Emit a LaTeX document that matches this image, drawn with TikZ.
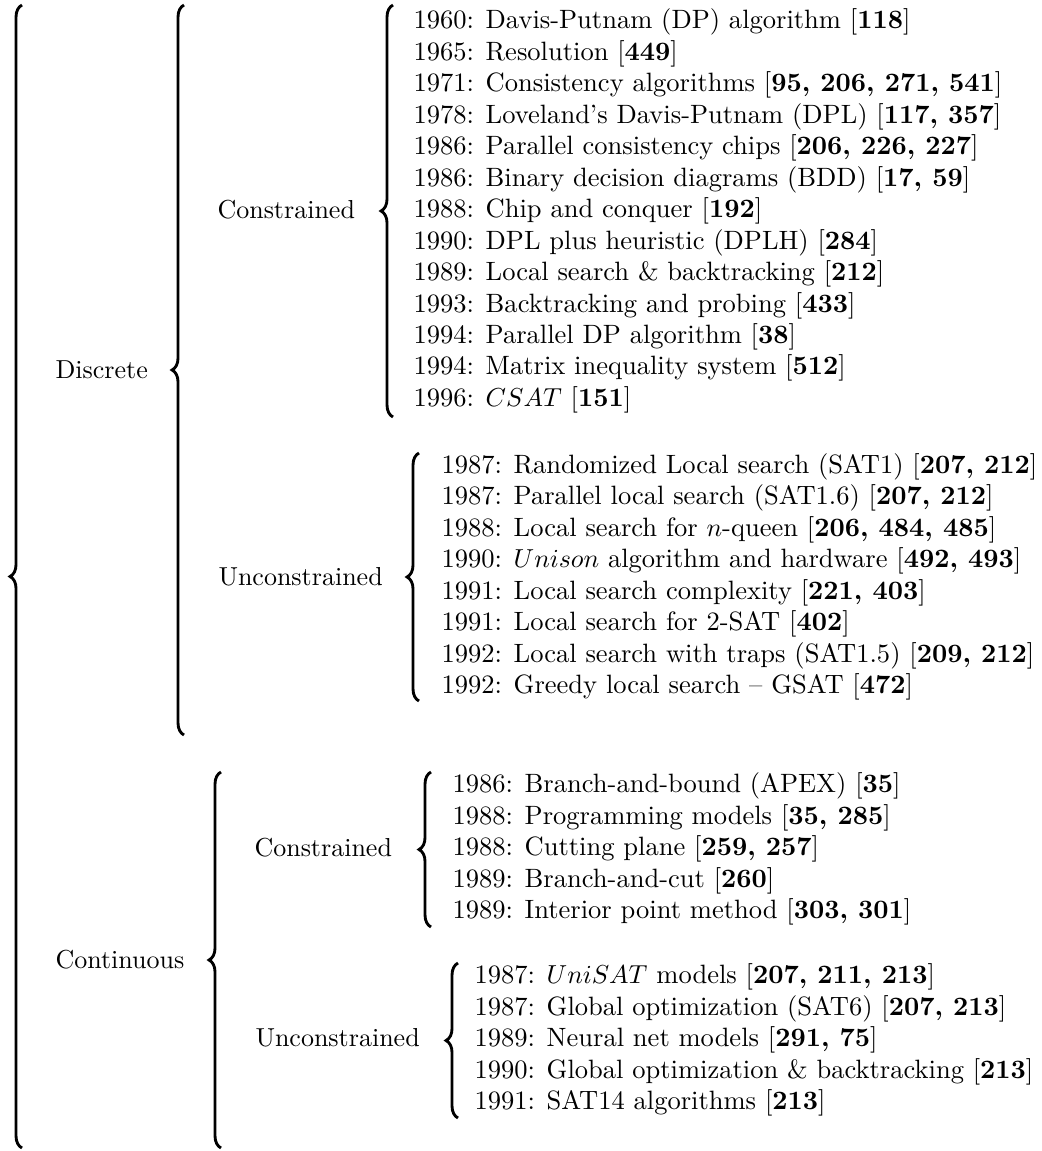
\documentclass[tikz,border=0pt]{standalone}
\usetikzlibrary{decorations.pathreplacing}
\begin{document}
\begin{tikzpicture}[x=0.3846pt,y=-0.3846pt,
  br/.style={decorate,decoration={brace,amplitude=4.6pt},line width=1.1pt},
  lbl/.style={anchor=west,inner sep=0pt,font=\fontsize{10}{12}\selectfont},
  items/.style={anchor=west,inner sep=0pt,align=left,font=\fontsize{10.2}{12.1}\selectfont}]
\useasboundingbox (0,0) rectangle (1042,1151);
% braces
\coordinate (rootT) at (22,5);   \coordinate (rootB) at (22,1148);
\coordinate (discT) at (184,5);  \coordinate (discB) at (184,735);
\coordinate (dcT) at (393,5);    \coordinate (dcB) at (393,417);
\coordinate (duT) at (419,453);  \coordinate (duB) at (419,701);
\coordinate (contT) at (221,772);\coordinate (contB) at (221,1148);
\coordinate (ccT) at (431,772);  \coordinate (ccB) at (431,927);
\coordinate (cuT) at (458,963);  \coordinate (cuB) at (458,1118);
\draw[br] (rootB) -- (rootT);
\draw[br] (discB) -- (discT);
\draw[br] (dcB) -- (dcT);
\draw[br] (duB) -- (duT);
\draw[br] (contB) -- (contT);
\draw[br] (ccB) -- (ccT);
\draw[br] (cuB) -- (cuT);
% labels
\node[lbl] (disc) at (55,370) {Discrete};
\node[lbl] (cont) at (55,960) {Continuous};
\node[lbl] (dcl) at (217,210) {Constrained};
\node[lbl] (dul) at (218,577) {Unconstrained};
\node[lbl] (ccl) at (254,848) {Constrained};
\node[lbl] (cul) at (255,1038) {Unconstrained};
% item lists
\node[items] (dcitems) at (413,211) {%
1960: Davis-Putnam (DP) algorithm [\textbf{118}]\\
1965: Resolution [\textbf{449}]\\
1971: Consistency algorithms [\textbf{95, 206, 271, 541}]\\
1978: Loveland's Davis-Putnam (DPL) [\textbf{117, 357}]\\
1986: Parallel consistency chips [\textbf{206, 226, 227}]\\
1986: Binary decision diagrams (BDD) [\textbf{17, 59}]\\
1988: Chip and conquer [\textbf{192}]\\
1990: DPL plus heuristic (DPLH) [\textbf{284}]\\
1989: Local search \& backtracking [\textbf{212}]\\
1993: Backtracking and probing [\textbf{433}]\\
1994: Parallel DP algorithm [\textbf{38}]\\
1994: Matrix inequality system [\textbf{512}]\\
1996: $CSAT$ [\textbf{151}]};
\node[items] (duitems) at (441,577) {%
1987: Randomized Local search (SAT1) [\textbf{207, 212}]\\
1987: Parallel local search (SAT1.6) [\textbf{207, 212}]\\
1988: Local search for $n$-queen [\textbf{206, 484, 485}]\\
1990: $Unison$ algorithm and hardware [\textbf{492, 493}]\\
1991: Local search complexity [\textbf{221, 403}]\\
1991: Local search for 2-SAT [\textbf{402}]\\
1992: Local search with traps (SAT1.5) [\textbf{209, 212}]\\
1992: Greedy local search -- GSAT [\textbf{472}]};
\node[items] (ccitems) at (452,849) {%
1986: Branch-and-bound (APEX) [\textbf{35}]\\
1988: Programming models [\textbf{35, 285}]\\
1988: Cutting plane [\textbf{259, 257}]\\
1989: Branch-and-cut [\textbf{260}]\\
1989: Interior point method [\textbf{303, 301}]};
\node[items] (cuitems) at (474,1040) {%
1987: $UniSAT$ models [\textbf{207, 211, 213}]\\
1987: Global optimization (SAT6) [\textbf{207, 213}]\\
1989: Neural net models [\textbf{291, 75}]\\
1990: Global optimization \& backtracking [\textbf{213}]\\
1991: SAT14 algorithms [\textbf{213}]};
\end{tikzpicture}
\end{document}
